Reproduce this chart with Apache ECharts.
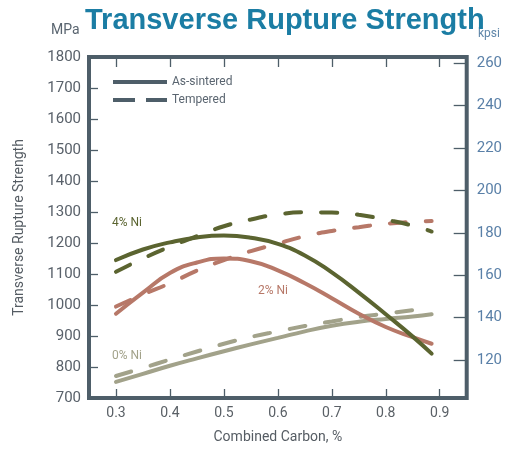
<!DOCTYPE html>
<html><head><meta charset="utf-8">
<script src="https://cdn.jsdelivr.net/npm/echarts@6/dist/echarts.min.js"></script>
<style>html,body{margin:0;padding:0;background:#fff}#c{width:505px;height:449px}</style>
</head><body><div id="c"></div>
<script>
// Combined carbon, %
const carbon = [0.30, 0.35, 0.40, 0.45, 0.50, 0.55, 0.60, 0.65, 0.70, 0.75, 0.80, 0.85, 0.885];
// Transverse rupture strength, MPa
const ni4Sintered = [1145, 1179, 1202, 1218, 1224, 1217, 1197, 1160, 1105, 1040, 970, 898, 843];
const ni4Tempered = [1107, 1150, 1188, 1222, 1254, 1276, 1292, 1299, 1298, 1291, 1275, 1256, 1237];
const ni2Sintered = [972, 1040, 1103, 1137, 1150, 1141, 1112, 1070, 1022, 972, 929, 896, 875];
const ni2Tempered = [995, 1034, 1070, 1111, 1145, 1174, 1198, 1222, 1239, 1251, 1262, 1268, 1271];
const ni0Sintered = [752, 778, 804, 828, 851, 873, 894, 915, 933, 946, 955, 963, 970];
const ni0Tempered = [771, 797, 824, 850, 875, 897, 915, 932, 947, 961, 972, 983, 989];
// tick labels
const xTicks = [0.3, 0.4, 0.5, 0.6, 0.7, 0.8, 0.9];
const kpsiTicks = [120, 140, 160, 180, 200, 220, 240, 260];
const mpaRange = [700, 1800];
const mpaPerKpsi = 6.85;

const border = '#4e5e69';
const cOlive = '#5b6430', cSalmon = '#b77868', cGray = '#a2a28a';
const font = 'Roboto';

function pairs(v) { return carbon.map((c, i) => [c, v[i]]); }
function curve(name, vals, color, dashed) {
  return {
    name, type: 'line', data: pairs(vals), smooth: 0.5, symbol: 'none', silent: true,
    lineStyle: { color, width: 4, type: dashed ? [16, 20] : 'solid', cap: 'round' },
    itemStyle: { color }, animation: false
  };
}

const chart = echarts.init(document.getElementById('c'));
chart.setOption({
  animation: false,
  backgroundColor: '#fff',
  title: {
    text: 'Transverse Rupture Strength', left: 80, top: 1,
    textStyle: { fontFamily: 'Liberation Sans', fontWeight: 'bold', fontSize: 29, color: '#1b7da4' }
  },
  grid: { left: 89, right: 35, top: 57, bottom: 48, show: true, borderColor: border, borderWidth: 4, backgroundColor: 'transparent' },
  legend: {
    orient: 'vertical', left: 108, top: 71, itemWidth: 54, itemHeight: 4, itemGap: 6,
    selectedMode: false,
    data: [
      { name: 'As-sintered', icon: 'path://M0,0h54v4h-54z' },
      { name: 'Tempered', icon: 'path://M0,0h22v4h-22z M33,0h21v4h-21z' }
    ],
    itemStyle: { color: border },
    textStyle: { color: '#5a6570', fontSize: 12, fontFamily: font }
  },
  xAxis: [{
    type: 'value', min: 0.25, max: 0.95, position: 'bottom',
    name: 'Combined Carbon, %', nameLocation: 'middle', nameGap: 32,
    nameTextStyle: { color: '#555c63', fontSize: 14, fontFamily: font },
    axisLine: { show: false }, splitLine: { show: false },
    axisTick: { inside: true, length: 9, customValues: xTicks, lineStyle: { color: border, width: 1.3 } },
    axisLabel: { customValues: xTicks, margin: 8, color: '#5a6066', fontSize: 14, fontFamily: font, formatter: v => v.toFixed(1) }
  }, {
    type: 'value', min: 0.25, max: 0.95, position: 'top',
    axisLine: { show: false }, splitLine: { show: false },
    axisTick: { inside: true, length: 10, customValues: xTicks, lineStyle: { color: border, width: 1.3 } },
    axisLabel: { show: false }
  }],
  yAxis: [{
    type: 'value', min: mpaRange[0], max: mpaRange[1], interval: 100, position: 'left',
    name: 'Transverse Rupture Strength', nameLocation: 'middle', nameGap: 63,
    nameTextStyle: { color: '#555c63', fontSize: 14, fontFamily: font },
    axisLine: { show: false }, splitLine: { show: false },
    axisTick: { inside: true, length: 9, lineStyle: { color: border, width: 1.3 } },
    axisLabel: { margin: 8, color: '#59616a', fontSize: 15, fontFamily: font, formatter: v => String(v) }
  }, {
    type: 'value', min: mpaRange[0] / mpaPerKpsi, max: mpaRange[1] / mpaPerKpsi, position: 'right',
    axisLine: { show: false }, splitLine: { show: false },
    axisTick: { inside: true, length: 13, customValues: kpsiTicks, lineStyle: { color: border, width: 1.3 } },
    axisLabel: { customValues: kpsiTicks, margin: 10, color: '#5a80a8', fontSize: 15, fontFamily: font, formatter: v => String(Math.round(v)) }
  }],
  graphic: [
    { type: 'text', left: 51, top: 23, style: { text: 'MPa', fill: '#5a6570', font: '14px Roboto' } },
    { type: 'text', left: 478, top: 28, style: { text: 'kpsi', fill: '#5f86a9', font: '12px Roboto' } },
    { type: 'text', left: 112, top: 217, style: { text: '4% Ni', fill: cOlive, font: '12px Roboto' } },
    { type: 'text', left: 258, top: 285, style: { text: '2% Ni', fill: cSalmon, font: '12px Roboto' } },
    { type: 'text', left: 112, top: 350, style: { text: '0% Ni', fill: cGray, font: '12px Roboto' } }
  ],
  series: [
    { name: 'As-sintered', type: 'line', data: [], symbol: 'none', lineStyle: { color: border, width: 4 }, itemStyle: { color: border } },
    { name: 'Tempered', type: 'line', data: [], symbol: 'none', lineStyle: { color: border, width: 4 }, itemStyle: { color: border } },
    curve('0% Ni tempered', ni0Tempered, cGray, true),
    curve('0% Ni as-sintered', ni0Sintered, cGray, false),
    curve('2% Ni tempered', ni2Tempered, cSalmon, true),
    curve('2% Ni as-sintered', ni2Sintered, cSalmon, false),
    curve('4% Ni tempered', ni4Tempered, cOlive, true),
    curve('4% Ni as-sintered', ni4Sintered, cOlive, false)
  ]
});
</script></body></html>
